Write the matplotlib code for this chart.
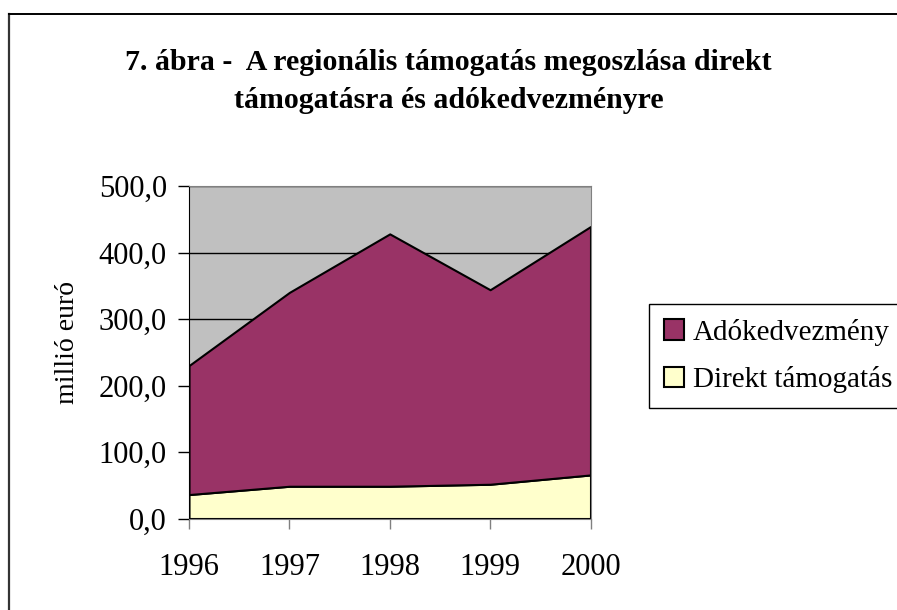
"""plot.py — stacked area chart: regional support split into direct aid and tax allowance."""
import matplotlib
matplotlib.use("Agg")
import matplotlib.pyplot as plt
from matplotlib.lines import Line2D

years = ["1996", "1997", "1998", "1999", "2000"]
direkt = [36.0, 48.5, 48.5, 51.5, 65.5]
adokedvezmeny = [194.0, 291.5, 379.5, 292.5, 373.5]

series_names = ["Adókedvezmény", "Direkt támogatás"]
colors = {"Adókedvezmény": "#993366", "Direkt támogatás": "#FFFFCC"}

plt.rcParams["font.family"] = ["Liberation Serif", "DejaVu Serif"]

W, H = 897, 610
fig = plt.figure(figsize=(W / 100, H / 100), dpi=100)

# chart border: only the left and top edges fall inside the picture
fig.add_artist(Line2D([9 / W, 9 / W], [0, 1 - 14 / H], transform=fig.transFigure,
                      color="#333333", linewidth=1.6))
fig.add_artist(Line2D([9 / W, 1], [1 - 14 / H, 1 - 14 / H], transform=fig.transFigure,
                      color="black", linewidth=1.4))

ax = fig.add_axes([189 / W, 1 - 518.5 / H, 401.5 / W, 332.5 / H])
ax.set_facecolor("#C0C0C0")

x = list(range(len(years)))
stacks = ax.stackplot(x, direkt, adokedvezmeny,
                      colors=[colors["Direkt támogatás"], colors["Adókedvezmény"]],
                      edgecolor="black", linewidth=1.5, zorder=2)

ax.set_xlim(0, len(years) - 1)
ax.set_ylim(0, 500)
ax.set_yticks(range(0, 501, 100))
ax.set_yticklabels([f"{v},0" for v in range(0, 501, 100)])
ax.set_xticks(x)
ax.set_xticklabels(years)
ax.tick_params(axis="both", labelsize=22, direction="out", length=8,
               width=1, colors="black")
ax.tick_params(axis="x", pad=18, color="#808080", length=7)
ax.tick_params(axis="y", pad=8)
ax.grid(axis="y", color="black", linewidth=1, zorder=1)
ax.set_axisbelow(True)

for side in ["top", "right", "bottom"]:
    ax.spines[side].set_color("#808080")
ax.spines["left"].set_color("black")

ax.set_ylabel("millió euró", fontsize=20)
ax.yaxis.set_label_coords(-0.272, 0.528)

fig.text(0.5, 1 - 62 / H, "7. ábra -  A regionális támogatás megoszlása direkt",
         ha="center", va="center", fontsize=21.5, fontweight="bold")
fig.text(0.5, 1 - 101 / H, "támogatásra és adókedvezményre",
         ha="center", va="center", fontsize=21.5, fontweight="bold")

handles = [stacks[1], stacks[0]]
leg = fig.legend(handles, series_names, loc="upper left",
                 bbox_to_anchor=(649 / W, 1 - 304 / H),
                 fontsize=21, frameon=True, fancybox=False,
                 edgecolor="black", framealpha=1, borderpad=0.5,
                 handlelength=0.7, handleheight=0.7, handletextpad=0.3,
                 labelspacing=0.7, borderaxespad=0)
leg.get_frame().set_linewidth(1)

fig.savefig("out.png", dpi=100)
